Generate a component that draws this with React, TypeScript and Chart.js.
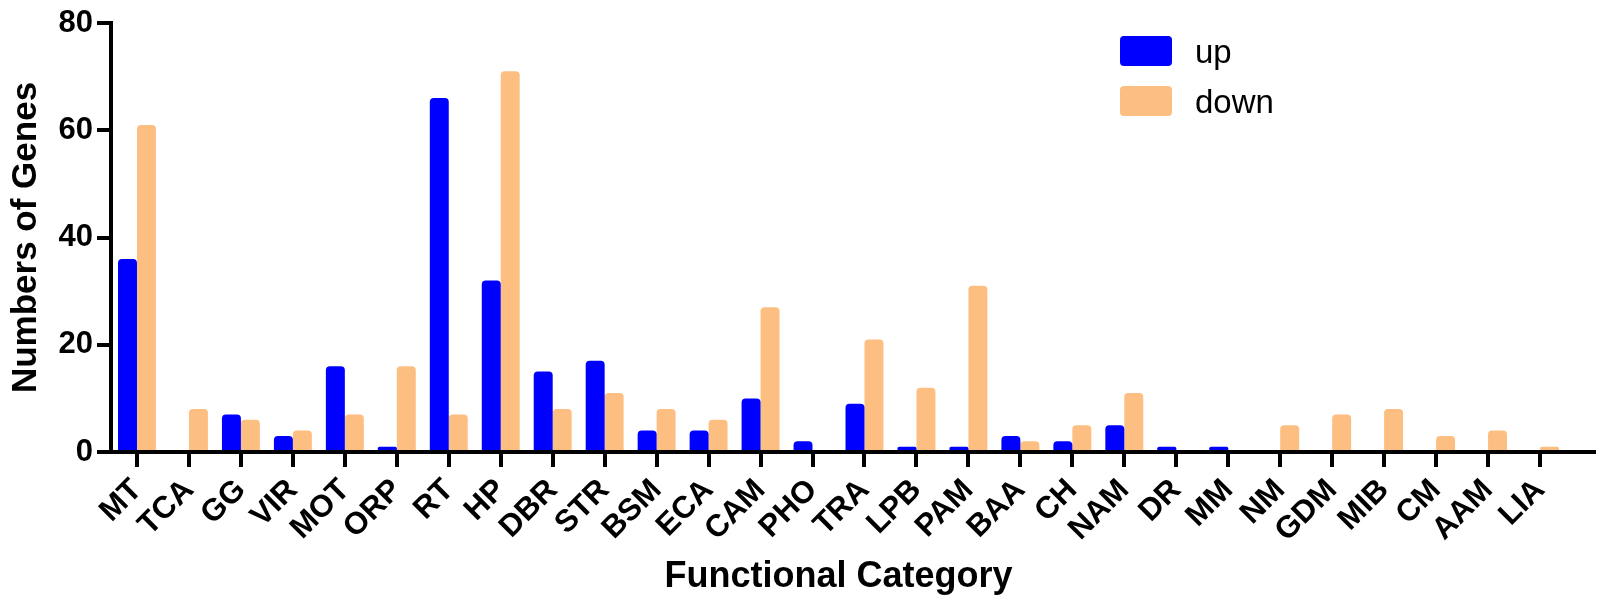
import React, { useEffect, useRef } from "react";
import { Chart, registerables } from "chart.js";

Chart.register(...registerables);

const categories = [
  "MT", "TCA", "GG", "VIR", "MOT", "ORP", "RT", "HP", "DBR", "STR",
  "BSM", "ECA", "CAM", "PHO", "TRA", "LPB", "PAM", "BAA", "CH", "NAM",
  "DR", "MM", "NM", "GDM", "MIB", "CM", "AAM", "LIA",
];
const upValues = [36, 0, 7, 3, 16, 1, 66, 32, 15, 17, 4, 4, 10, 2, 9, 1, 1, 3, 2, 5, 1, 1, 0, 0, 0, 0, 0, 0];
const downValues = [61, 8, 6, 4, 7, 16, 7, 71, 8, 11, 8, 6, 27, 0, 21, 12, 31, 2, 5, 11, 0, 0, 5, 7, 8, 3, 4, 1];
const seriesLabels = ["up", "down"];
const seriesColors = ["#0000FF", "#FDBE81"];
const yMin = 0;
const yMax = 80;
const yStep = 20;
const xTitle = "Functional Category";
const yTitle = "Numbers of Genes";

const FONT = "'Liberation Sans', Arial, Helvetica, sans-serif";

export default function App() {
  const ref = useRef<HTMLCanvasElement | null>(null);

  useEffect(() => {
    document.body.style.margin = "0";
    const canvas = ref.current;
    if (!canvas) return;

    const legendPlugin = {
      id: "prismLegend",
      afterDraw(chart: any) {
        const ctx = chart.ctx as CanvasRenderingContext2D;
        ctx.save();
        chart.data.datasets.forEach((ds: any, i: number) => {
          const bx = 1120;
          const by = 36 + i * 50;
          ctx.fillStyle = ds.backgroundColor;
          ctx.beginPath();
          (ctx as any).roundRect(bx, by, 52, 30, 4);
          ctx.fill();
          ctx.fillStyle = "#000";
          ctx.font = `33px ${FONT}`;
          ctx.textAlign = "left";
          ctx.textBaseline = "alphabetic";
          ctx.fillText(ds.label, bx + 75, by + 27);
        });
        ctx.restore();
      },
    };

    const axisExtendPlugin = {
      id: "axisExtend",
      afterDraw(chart: any) {
        const ctx = chart.ctx as CanvasRenderingContext2D;
        const { right, bottom } = chart.chartArea;
        ctx.save();
        ctx.strokeStyle = "#000";
        ctx.lineWidth = 4;
        ctx.beginPath();
        ctx.moveTo(right - 2, bottom);
        ctx.lineTo(right + 30, bottom);
        ctx.stroke();
        ctx.restore();
      },
    };

    const barStyle = {
      borderWidth: 0,
      borderRadius: { topLeft: 4, topRight: 4, bottomLeft: 0, bottomRight: 0 },
      borderSkipped: false,
      categoryPercentage: 0.73,
      barPercentage: 1.0,
    };

    const chart = new Chart(canvas, {
      type: "bar",
      data: {
        labels: categories,
        datasets: [
          { label: seriesLabels[0], data: upValues, backgroundColor: seriesColors[0], ...barStyle },
          { label: seriesLabels[1], data: downValues, backgroundColor: seriesColors[1], ...barStyle },
        ],
      },
      options: {
        responsive: false,
        animation: false,
        devicePixelRatio: 1,
        layout: { padding: { top: 23, right: 34, left: 0, bottom: 0 } },
        plugins: {
          legend: { display: false },
          tooltip: { enabled: false },
          title: { display: false },
        },
        scales: {
          x: {
            type: "category",
            offset: true,
            z: 1,
            afterFit(scale: any) {
              scale.height = 151;
            },
            grid: {
              display: true,
              drawOnChartArea: false,
              drawTicks: true,
              offset: false,
              tickLength: 15,
              lineWidth: 4,
              color: "#000",
            },
            border: { display: true, color: "#000", width: 4 },
            ticks: {
              autoSkip: false,
              minRotation: 45,
              maxRotation: 45,
              padding: 5,
              color: "#000",
              font: { family: FONT, size: 31, weight: "bold" },
            },
            title: {
              display: true,
              text: xTitle,
              color: "#000",
              font: { family: FONT, size: 36, weight: "bold" },
              padding: { top: 0, bottom: 4 },
            },
          },
          y: {
            type: "linear",
            min: yMin,
            max: yMax,
            z: 1,
            afterFit(scale: any) {
              scale.width = 111;
            },
            grid: {
              display: true,
              drawOnChartArea: false,
              drawTicks: true,
              tickLength: 14,
              lineWidth: 4,
              color: "#000",
            },
            border: { display: true, color: "#000", width: 4 },
            ticks: {
              stepSize: yStep,
              padding: 4,
              color: "#000",
              font: { family: FONT, size: 31, weight: "bold" },
            },
            title: {
              display: true,
              text: yTitle,
              color: "#000",
              font: { family: FONT, size: 35, weight: "bold" },
              padding: { top: 5, bottom: 0 },
            },
          },
        },
      },
      plugins: [legendPlugin, axisExtendPlugin],
    } as any);

    return () => {
      chart.destroy();
    };
  }, []);

  return (
    <div style={{ width: 1600, height: 603, background: "#fff" }}>
      <canvas ref={ref} width={1600} height={603} style={{ display: "block", width: 1600, height: 603 }} />
    </div>
  );
}
